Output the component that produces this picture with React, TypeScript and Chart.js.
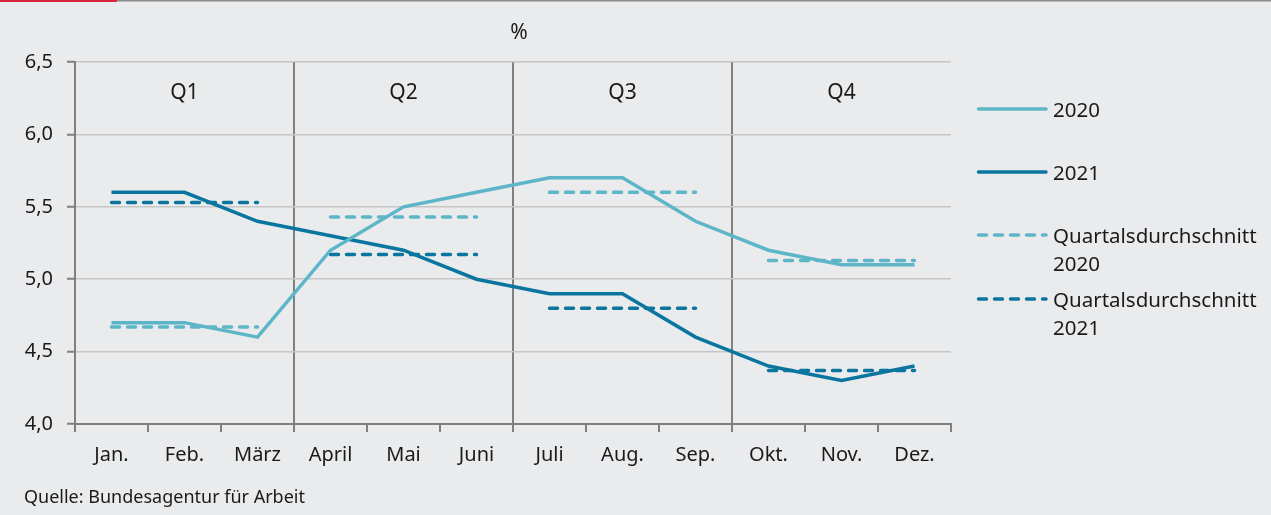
import React, { useEffect, useRef } from "react";
import { Chart, registerables } from "chart.js";

Chart.register(...registerables);

const months = ["Jan.", "Feb.", "März", "April", "Mai", "Juni", "Juli", "Aug.", "Sep.", "Okt.", "Nov.", "Dez."];
const quarterLabels = ["Q1", "Q2", "Q3", "Q4"];
const values2020 = [4.7, 4.7, 4.6, 5.2, 5.5, 5.6, 5.7, 5.7, 5.4, 5.2, 5.1, 5.1];
const values2021 = [5.6, 5.6, 5.4, 5.3, 5.2, 5.0, 4.9, 4.9, 4.6, 4.4, 4.3, 4.4];
const quarterAvg2020 = [4.67, 5.43, 5.6, 5.13];
const quarterAvg2021 = [5.53, 5.17, 4.8, 4.37];
const yTicks = [4.0, 4.5, 5.0, 5.5, 6.0, 6.5];

const LIGHT = "#5db6c8";
const DARK = "#0a76a0";
const BG = "#eaebed";
const FONT = "'Noto Sans', sans-serif";

const expandQuarter = (q: number[]) => months.map((_, i) => q[Math.floor(i / 3)]);

const overlay = {
  id: "overlay",
  afterDraw(chart: any) {
    const { ctx, scales } = chart;
    const x = scales.x;
    ctx.save();
    ctx.fillStyle = "#8a8a8a";
    ctx.fillRect(0, 0, chart.width, 1.5);
    ctx.fillStyle = "#d7263d";
    ctx.fillRect(0, 0, 117, 2);
    ctx.fillStyle = "#1a1a1a";
    ctx.textAlign = "center";
    ctx.textBaseline = "middle";
    ctx.font = `21px ${FONT}`;
    ctx.fillText("%", (chart.chartArea.left + chart.chartArea.right) / 2 + 6, 33);
    quarterLabels.forEach((q, i) => {
      const cx = (x.getPixelForValue(i * 3) + x.getPixelForValue(i * 3 + 2)) / 2;
      ctx.fillText(q, cx, 93);
    });
    const legendRows = [
      { ds: 0, y: 109, lines: ["2020"] },
      { ds: 1, y: 172, lines: ["2021"] },
      { ds: 2, y: 235, lines: ["Quartalsdurchschnitt", "2020"] },
      { ds: 3, y: 299, lines: ["Quartalsdurchschnitt", "2021"] },
    ];
    ctx.font = `20.5px ${FONT}`;
    legendRows.forEach((r) => {
      const ds = chart.data.datasets[r.ds];
      ctx.strokeStyle = ds.borderColor;
      ctx.lineWidth = 3.5;
      ctx.lineCap = "round";
      ctx.setLineDash(ds.borderDash || []);
      ctx.beginPath();
      ctx.moveTo(978.5, r.y);
      ctx.lineTo(1046, r.y);
      ctx.stroke();
      ctx.setLineDash([]);
      ctx.fillStyle = "#1a1a1a";
      ctx.textAlign = "left";
      r.lines.forEach((t, k) => ctx.fillText(t, 1053, r.y + 2 + k * 28));
    });
    ctx.font = `18px ${FONT}`;
    ctx.fillText("Quelle: Bundesagentur für Arbeit", 24, 498);
    ctx.restore();
  },
};

export default function App() {
  const ref = useRef<HTMLCanvasElement>(null);
  useEffect(() => {
    if (!ref.current) return;
    const breakSeg = (c: any, color: string) => (c.p0DataIndex % 3 === 2 ? "rgba(0,0,0,0)" : color);
    const chart = new Chart(ref.current, {
      type: "line",
      data: {
        labels: months,
        datasets: [
          { label: "2020", data: values2020, borderColor: LIGHT, borderWidth: 3.5, pointRadius: 0, tension: 0 },
          { label: "2021", data: values2021, borderColor: DARK, borderWidth: 3.5, pointRadius: 0, tension: 0 },
          {
            label: "Quartalsdurchschnitt 2020",
            data: expandQuarter(quarterAvg2020),
            borderColor: LIGHT,
            borderWidth: 3.5,
            borderDash: [8, 8],
            borderCapStyle: "round",
            pointRadius: 0,
            segment: { borderColor: (c: any) => breakSeg(c, LIGHT) },
          },
          {
            label: "Quartalsdurchschnitt 2021",
            data: expandQuarter(quarterAvg2021),
            borderColor: DARK,
            borderWidth: 3.5,
            borderDash: [8, 8],
            borderCapStyle: "round",
            pointRadius: 0,
            segment: { borderColor: (c: any) => breakSeg(c, DARK) },
          },
        ],
      },
      options: {
        animation: false,
        responsive: false,
        layout: { padding: { top: 62, right: 320, bottom: 0, left: 0 } },
        plugins: { legend: { display: false }, tooltip: { enabled: false } },
        scales: {
          x: {
            offset: true,
            afterFit: (s: any) => { s.height = 91; },
            grid: {
              offset: true,
              lineWidth: (c: any) => (c.index === 12 ? 1 : 2),
              color: (c: any) => (c.index === 3 || c.index === 6 || c.index === 9 ? "#7f7f7f" : c.index === 12 ? "#c9c9c9" : "rgba(0,0,0,0)"),
              tickColor: "#7f7f7f",
              tickLength: 8,
              tickWidth: 2,
            },
            border: { color: "#7f7f7f", width: 2 },
            ticks: { color: "#1a1a1a", font: { family: FONT, size: 20 }, padding: 11, maxRotation: 0 },
          },
          y: {
            min: 4,
            max: 6.5,
            afterFit: (s: any) => { s.width = 75; },
            afterBuildTicks: (s: any) => { s.ticks = yTicks.map((v) => ({ value: v })); },
            grid: {
              color: "#c6c6c6",
              lineWidth: 1.5,
              tickColor: "#7f7f7f",
              tickLength: 8,
              tickWidth: 2,
            },
            border: { color: "#7f7f7f", width: 2 },
            ticks: {
              color: "#1a1a1a",
              font: { family: FONT, size: 20 },
              padding: 14,
              callback: (v: any) => Number(v).toFixed(1).replace(".", ","),
            },
          },
        },
      },
      plugins: [overlay],
    });
    return () => chart.destroy();
  }, []);
  return (
    <div style={{ position: "fixed", left: 0, top: 0, width: 1271, height: 515, background: BG }}>
      <canvas ref={ref} width={1271} height={515} style={{ width: 1271, height: 515, display: "block" }} />
    </div>
  );
}
